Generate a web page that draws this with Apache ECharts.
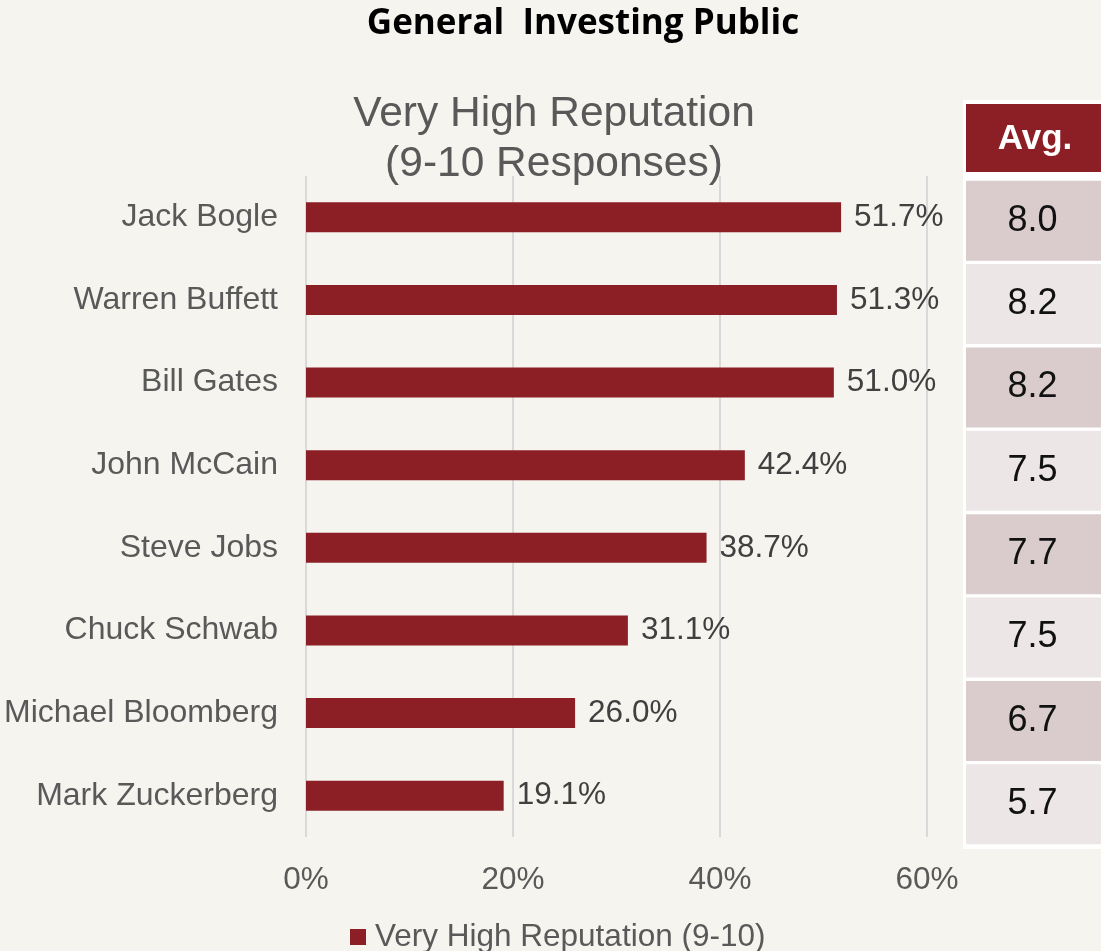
<!DOCTYPE html>
<html>
<head>
<meta charset="utf-8">
<script src="https://cdn.jsdelivr.net/npm/echarts@6/dist/echarts.min.js"></script>
<style>
  html, body { margin: 0; padding: 0; background: #F5F4EE; }
  #chart { width: 1101px; height: 951px; }
</style>
</head>
<body>
<div id="chart"></div>
<script>
// Survey results: share of 9-10 responses and the average rating per person
const names = ['Jack Bogle', 'Warren Buffett', 'Bill Gates', 'John McCain',
  'Steve Jobs', 'Chuck Schwab', 'Michael Bloomberg', 'Mark Zuckerberg'];
const veryHighShare = [51.7, 51.3, 51.0, 42.4, 38.7, 31.1, 26.0, 19.1];
const avgRating = ['8.0', '8.2', '8.2', '7.5', '7.7', '7.5', '6.7', '5.7'];
const xTicks = { min: 0, max: 60, interval: 20 };
const seriesName = 'Very High Reputation (9-10)';

const FONT = "'Liberation Sans', Arial, sans-serif";
const RED = '#8B1F25';
const CELL_DARK = '#DACCCC';
const CELL_LIGHT = '#EDE6E6';

const chart = echarts.init(document.getElementById('chart'), null, { renderer: 'canvas' });

chart.setOption({
  backgroundColor: '#F5F4EE',
  animation: false,
  title: [
    {
      text: 'General  Investing Public',
      left: 578, top: 2, textAlign: 'center',
      textStyle: { fontFamily: "'Open Sans', sans-serif", fontWeight: 'bold', fontSize: 35, color: '#000' }
    },
    {
      text: 'Very High Reputation\n(9-10 Responses)',
      left: 549, top: 84, textAlign: 'center',
      textStyle: { fontFamily: FONT, fontWeight: 'normal', fontSize: 42.5, lineHeight: 50, color: '#595959' }
    }
  ],
  legend: {
    data: [seriesName],
    left: 345, top: 916,
    icon: 'rect', itemWidth: 16, itemHeight: 16, itemGap: 6,
    textStyle: { fontFamily: FONT, fontSize: 31.5, color: '#595959', padding: [0, 0, 0, 4] }
  },
  graphic: [
    { type: 'rect', z: -1, shape: { x: 963, y: 100, width: 140, height: 749 }, style: { fill: '#FFFFFF' } },
    { type: 'rect', shape: { x: 966, y: 104, width: 137, height: 68 }, style: { fill: RED } },
    { type: 'text', x: 1035, y: 139, style: {
        text: 'Avg.', fill: '#FFFFFF', font: 'bold 35px ' + FONT,
        textAlign: 'center', textVerticalAlign: 'middle' } }
  ],
  grid: [
    { left: 306, right: 174, top: 176, bottom: 114 },
    { left: 966, right: -2, top: 179, bottom: 105 }
  ],
  xAxis: [
    {
      gridIndex: 0, type: 'value', min: xTicks.min, max: xTicks.max, interval: xTicks.interval,
      axisLine: { show: false }, axisTick: { show: false },
      splitLine: { show: true, lineStyle: { color: '#D9D9D9', width: 2 } },
      axisLabel: { formatter: '{value}%', margin: 27, fontFamily: FONT, fontSize: 31.5, color: '#595959' }
    },
    { gridIndex: 1, type: 'value', min: 0, max: 1, show: false }
  ],
  yAxis: [
    {
      gridIndex: 0, type: 'category', data: names, inverse: true,
      axisLine: { show: false }, axisTick: { show: false },
      axisLabel: { margin: 28, fontFamily: FONT, fontSize: 32, color: '#595959' }
    },
    { gridIndex: 1, type: 'category', data: names, inverse: true, show: false }
  ],
  series: [
    {
      name: seriesName, type: 'bar', xAxisIndex: 0, yAxisIndex: 0,
      data: veryHighShare, barWidth: 30,
      itemStyle: { color: RED },
      label: {
        show: true, position: 'right', distance: 13,
        formatter: p => p.value.toFixed(1) + '%',
        fontFamily: FONT, fontSize: 31.5, color: '#404040'
      }
    },
    {
      name: 'Avg.', type: 'bar', xAxisIndex: 1, yAxisIndex: 1,
      barWidth: 80, silent: true,
      data: avgRating.map((v, i) => ({
        value: 1, rating: v,
        itemStyle: { color: i % 2 === 0 ? CELL_DARK : CELL_LIGHT }
      })),
      label: {
        show: true, position: 'inside', offset: [-1, 0],
        formatter: p => p.data.rating,
        fontFamily: FONT, fontSize: 36, color: '#111111'
      }
    }
  ]
});
</script>
</body>
</html>
